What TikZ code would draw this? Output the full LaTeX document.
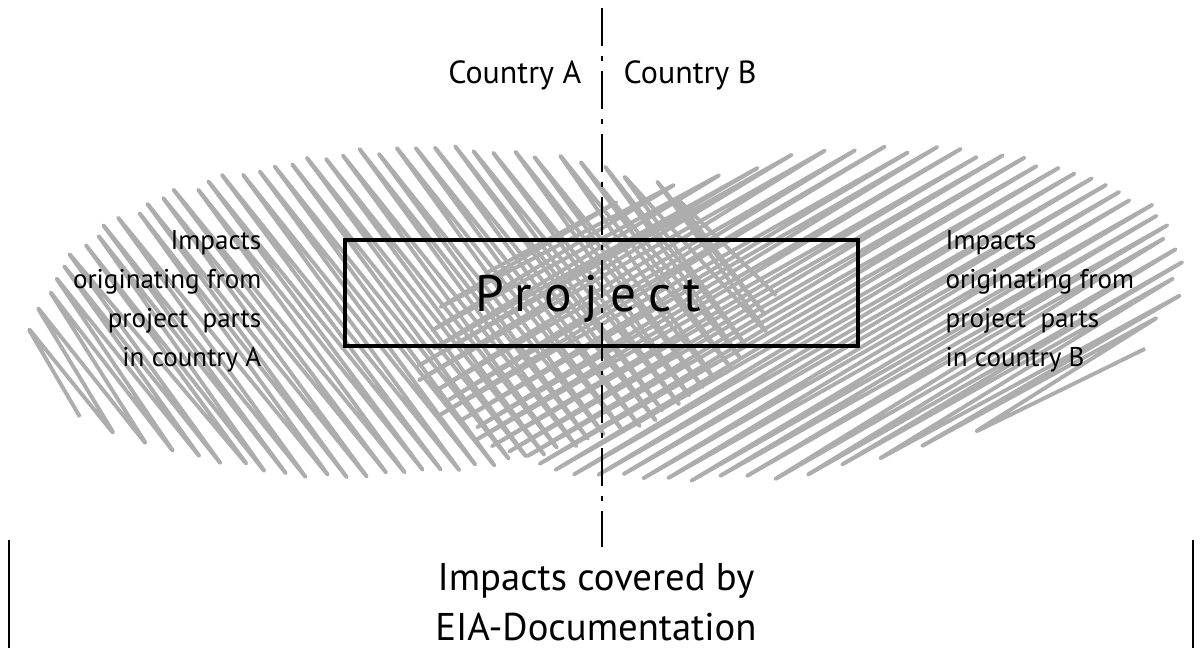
\documentclass[tikz,border=0pt]{standalone}
\usepackage{fontspec}
\setmainfont{PT Sans}
\usepackage{tikz}
\definecolor{scribgray}{gray}{0.68}

\begin{document}
\begin{tikzpicture}[x=0.1mm, y=0.1mm, every node/.style={inner sep=0pt, font=\fontsize{7.7}{11.1}\selectfont}, scribble/.style={draw=scribgray, line width=1.1pt, rounded corners=2pt, line join=round}, projbox/.style={draw, line width=1.4pt, minimum width=51.3mm, minimum height=10.6mm}, border/.style={line width=0.8pt, dash pattern=on 10.8pt off 2.85pt on 1.4pt off 2.85pt}, side/.style={line width=0.6pt}]
\useasboundingbox (0,0) rectangle (1202,648);
\pgfmathsetseed{11}
% impacts originating in country A
\begin{scope}[shift={(400,336)}, rotate=3, xscale=380, yscale=170]
\draw[scribble] ({-72.9+asin(-0.97)}:1) \foreach \k [evaluate=\k as \ang using {-72.9+mod(\k,2)*180+(1-2*mod(\k,2))*asin(-0.97+\k*0.024)}, evaluate=\k as \rr using {0.95+0.05*rnd}] in {1,...,80} { -- (\ang:\rr) };
\end{scope}
% impacts originating in country B
\begin{scope}[shift={(803,333)}, rotate=9, xscale=394, yscale=162]
\draw[scribble] ({43.5+asin(-0.97)}:1) \foreach \k [evaluate=\k as \ang using {43.5+mod(\k,2)*180+(1-2*mod(\k,2))*asin(-0.97+\k*0.032)}, evaluate=\k as \rr using {0.95+0.05*rnd}] in {1,...,61} { -- (\ang:\rr) };
\end{scope}

\node[projbox] (project) at (601.5,355) {};
\node[font=\fontsize{14.6}{16}\selectfont\addfontfeature{LetterSpace=24}, anchor=base west] (projlbl) at (475,337) {Project};

\node[font=\fontsize{9.1}{10}\selectfont, anchor=base east] (cntA) at (582,565) {Country A};
\node[font=\fontsize{9.1}{10}\selectfont, anchor=base west] (cntB) at (623,565) {Country B};

\node[align=right, anchor=north east] (impA) at (262,418) {Impacts\\originating from\\project~~parts\\in country A};
\node[align=left, anchor=north west] (impB) at (945,418) {Impacts\\originating from\\project~~parts\\in country B};

\node[font=\fontsize{11}{14.2}\selectfont, align=center, anchor=north] (eia) at (596,85) {Impacts covered by\\EIA-Documentation};

% border between the countries
\coordinate (lineTop) at (602,640);
\coordinate (lineBot) at (602,101);
\draw[border] (lineTop) -- (lineBot);

\coordinate (barLtop) at (9,108);
\coordinate (barLbot) at (9,0);
\coordinate (barRtop) at (1193,108);
\coordinate (barRbot) at (1193,0);
\draw[side] (barLtop) -- (barLbot);
\draw[side] (barRtop) -- (barRbot);
\end{tikzpicture}
\end{document}
